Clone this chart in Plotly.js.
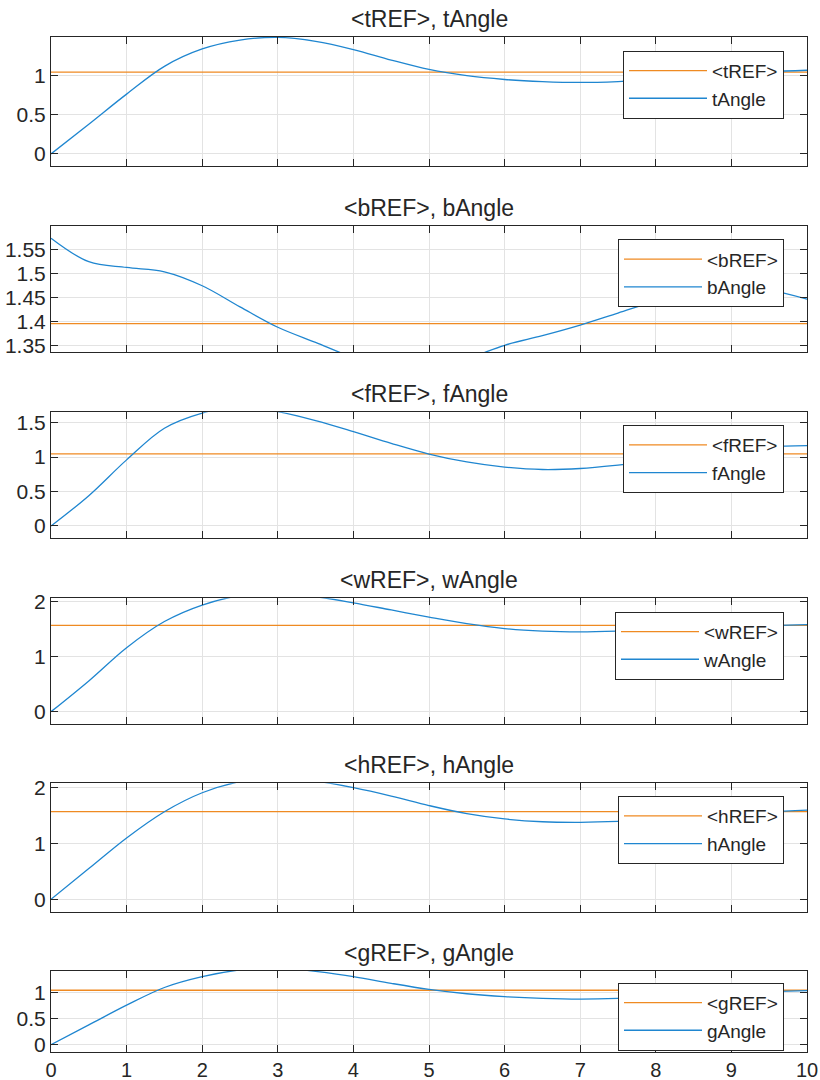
<!DOCTYPE html>
<html>
<head>
<meta charset="utf-8">
<script src="https://cdn.plot.ly/plotly-3.0.1.min.js"></script>
<style>html,body{margin:0;padding:0;background:#fff;}#chart{width:820px;height:1080px;}</style>
</head>
<body>
<div id="chart"></div>
<script>
// ---- data ----
const time = [0,0.5,1,1.5,2,2.5,3,3.5,4,4.5,5,5.5,6,6.5,7,7.5,8,8.5,9,9.5,10];

const tAngle = [0,0.38,0.765,1.12,1.342,1.455,1.49,1.44,1.335,1.2,1.08,1.0,0.952,0.925,0.914,0.925,0.95,0.985,1.02,1.05,1.07];
const bAngle = [1.573,1.524,1.512,1.503,1.474,1.43,1.3875,1.356,1.325,1.308,1.305,1.322,1.35,1.37,1.392,1.417,1.442,1.46,1.469,1.465,1.446];
const fAngle = [0,0.44,0.96,1.42,1.64,1.74,1.66,1.53,1.37,1.2,1.045,0.93,0.855,0.82,0.835,0.885,0.95,1.03,1.1,1.15,1.168];
const wAngle = [0,0.56,1.164,1.64,1.94,2.11,2.16,2.09,1.98,1.85,1.72,1.60,1.51,1.465,1.452,1.465,1.49,1.52,1.545,1.565,1.582];
const hAngle = [0,0.55,1.10,1.57,1.91,2.11,2.19,2.12,2.0,1.85,1.68,1.535,1.44,1.39,1.38,1.395,1.43,1.475,1.525,1.57,1.60];
const gAngle = [0,0.38,0.76,1.1,1.308,1.44,1.49,1.41,1.31,1.18,1.064,0.98,0.925,0.892,0.878,0.89,0.92,0.955,0.99,1.02,1.04];

const refValues = [1.047, 1.395, 1.047, 1.571, 1.571, 1.047];
const refNames = ['<tREF>','<bREF>','<fREF>','<wREF>','<hREF>','<gREF>'];
const angleNames = ['tAngle','bAngle','fAngle','wAngle','hAngle','gAngle'];
const angleSeries = [tAngle, bAngle, fAngle, wAngle, hAngle, gAngle];

const yRanges = [[-0.154,1.495],[1.336,1.599],[-0.179,1.651],[-0.224,2.062],[-0.222,2.079],[-0.146,1.423]];
const yDticks = [0.5, 0.05, 0.5, 1, 1, 0.5];

// ---- layout geometry (pixels) ----
const W = 820, H = 1080;
const plotLeft = 51, plotRight = 807;
const panelTops = [37, 225.7, 412.3, 598.3, 783.3, 970.7];
const panelBottoms = [166, 352, 538.3, 724, 911.7, 1052.3];
const legendTops = [50.7, 239.3, 425, 611.7, 796, 982.7];
const legendRight = 784;

const FONT = 'Liberation Sans, Arial, Helvetica, sans-serif';
const ink = '#262626';
const blue = '#1f86d0';
const orange = '#ef8a22';

function esc(s){ return s.replace(/</g,'&lt;').replace(/>/g,'&gt;'); }

const traces = [];
const layout = {
  width: W, height: H,
  margin: {l:0, r:0, t:0, b:0},
  paper_bgcolor: '#ffffff',
  plot_bgcolor: '#ffffff',
  font: {family: FONT, size: 20, color: ink},
  showlegend: true,
  annotations: []
};

for (let i = 0; i < 6; i++) {
  const n = i + 1;
  const xa = n === 1 ? 'x' : 'x' + n;
  const ya = n === 1 ? 'y' : 'y' + n;
  const lg = n === 1 ? 'legend' : 'legend' + n;

  traces.push({
    x: [time[0], time[time.length-1]],
    y: [refValues[i], refValues[i]],
    xaxis: xa, yaxis: ya, legend: lg,
    type: 'scatter', mode: 'lines',
    name: esc(refNames[i]),
    line: {color: orange, width: 1.3}
  });
  traces.push({
    x: time, y: angleSeries[i],
    xaxis: xa, yaxis: ya, legend: lg,
    type: 'scatter', mode: 'lines',
    name: angleNames[i],
    line: {color: blue, width: 1.3, shape: 'spline', smoothing: 1}
  });

  const common = {
    showline: true, linecolor: ink, linewidth: 1, mirror: 'ticks',
    ticks: 'inside', ticklen: 7, tickcolor: ink, tickwidth: 1,
    showgrid: true, gridcolor: '#e3e3e3', gridwidth: 1,
    zeroline: false
  };

  layout[n === 1 ? 'xaxis' : 'xaxis' + n] = Object.assign({}, common, {
    domain: [plotLeft / W, plotRight / W],
    range: [0, 10], dtick: 1, tick0: 0,
    anchor: ya,
    showticklabels: i === 5,
    ticklabelstandoff: 0,
    tickfont: {size: 20, color: ink, family: FONT}
  });
  layout[n === 1 ? 'yaxis' : 'yaxis' + n] = Object.assign({}, common, {
    domain: [1 - panelBottoms[i] / H, 1 - panelTops[i] / H],
    range: yRanges[i], dtick: yDticks[i], tick0: 0,
    anchor: xa,
    tickfont: {size: 21, color: ink, family: FONT}
  });
  layout[lg] = {
    x: legendRight / W, y: 1 - legendTops[i] / H,
    xanchor: 'right', yanchor: 'top',
    bordercolor: ink, borderwidth: 1, bgcolor: '#ffffff',
    font: {size: 19, color: ink, family: FONT},
    itemwidth: 78, traceorder: 'normal'
  };
  layout.annotations.push({
    xref: 'paper', yref: 'paper',
    x: (plotLeft + plotRight) / 2 / W, y: 1 - panelTops[i] / H,
    xanchor: 'center', yanchor: 'bottom', yshift: 3,
    showarrow: false,
    text: esc(refNames[i]) + ', ' + angleNames[i],
    font: {size: 23, color: ink, family: FONT}
  });
}

Plotly.newPlot('chart', traces, layout, {staticPlot: true, displayModeBar: false});
</script>
</body>
</html>
